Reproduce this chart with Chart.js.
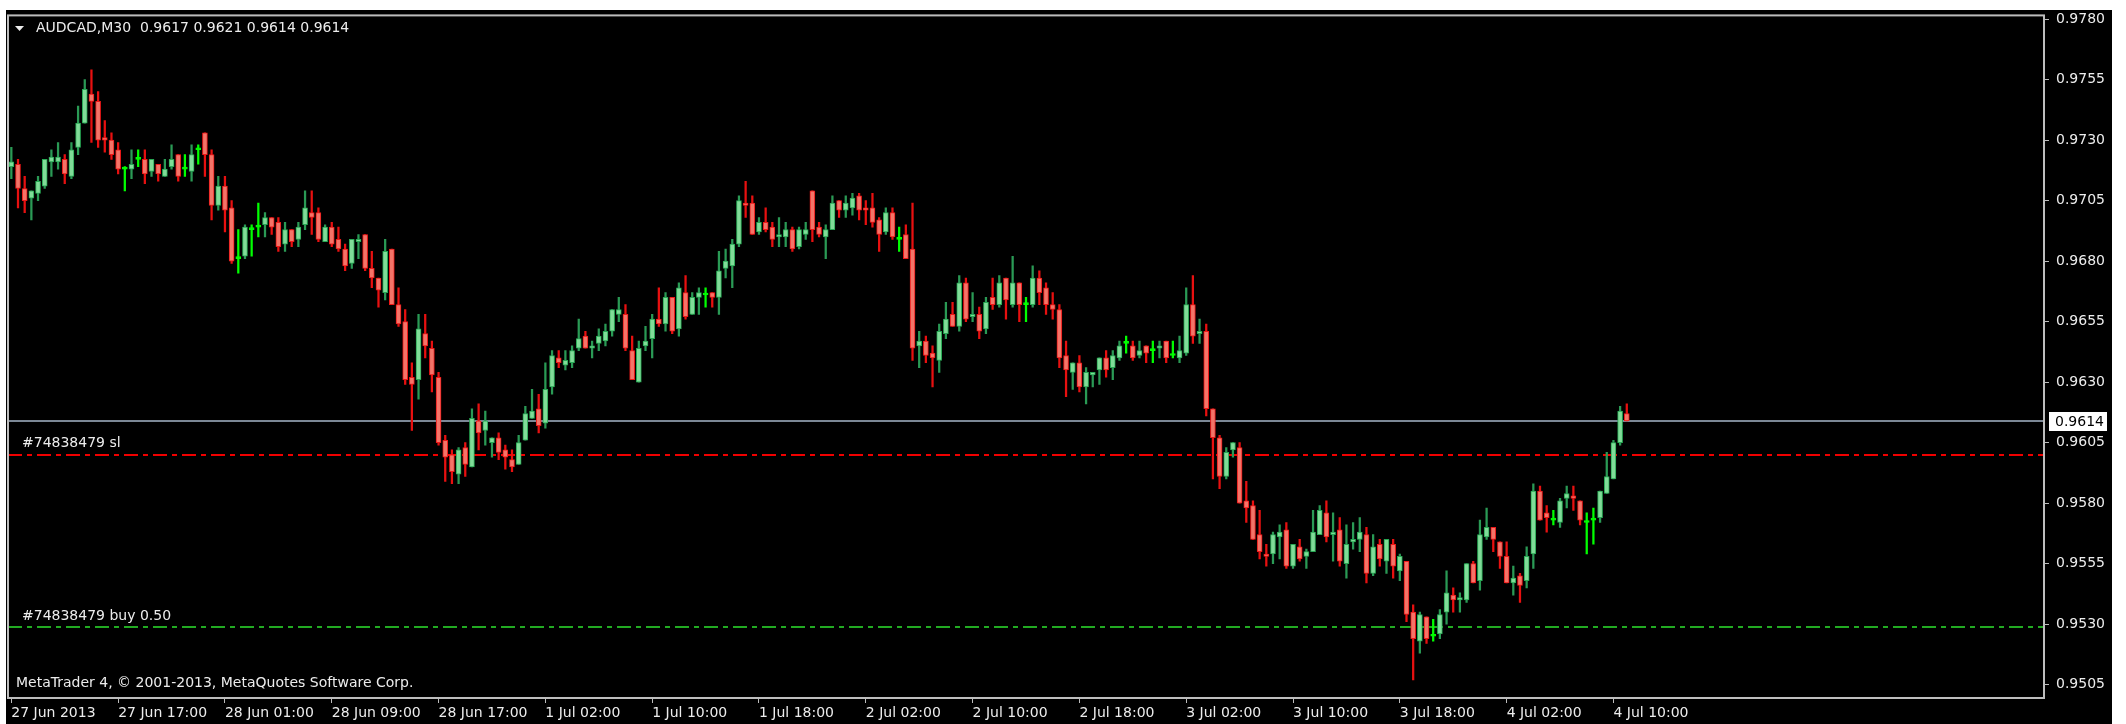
<!DOCTYPE html>
<html>
<head>
<meta charset="utf-8">
<script src="https://cdn.jsdelivr.net/npm/chart.js@4.4.1/dist/chart.umd.min.js"></script>
<style>
  html, body { margin: 0; padding: 0; background: #fff; }
  canvas { display: block; }
</style>
</head>
<body>
<canvas id="chart" width="2126" height="724"></canvas>
<script>
// AUDCAD M30 candles (oldest first)
const opens = [
  0.9719, 0.9720, 0.9710, 0.9706, 0.9708, 0.9711, 0.9721, 0.9721, 0.9722, 0.9715,
  0.9727, 0.9737, 0.9749, 0.9746, 0.9731, 0.9730, 0.9726, 0.9718, 0.9718, 0.9722,
  0.9722, 0.9717, 0.9720, 0.9715, 0.9719, 0.9724, 0.9718, 0.9717, 0.9726, 0.9733,
  0.9724, 0.9703, 0.9711, 0.9702, 0.9681, 0.9682, 0.9693, 0.9694, 0.9695, 0.9698,
  0.9696, 0.9687, 0.9693, 0.9689, 0.9695, 0.9700, 0.9700, 0.9688, 0.9694, 0.9689,
  0.9685, 0.9679, 0.9688, 0.9691, 0.9677, 0.9673, 0.9667, 0.9685, 0.9662, 0.9655,
  0.9632, 0.9631, 0.9650, 0.9644, 0.9632, 0.9606, 0.9600, 0.9592, 0.9603, 0.9595,
  0.9614, 0.9610, 0.9605, 0.9607, 0.9602, 0.9598, 0.9596, 0.9606, 0.9615, 0.9619,
  0.9613, 0.9628, 0.9640, 0.9637, 0.9638, 0.9644, 0.9649, 0.9644, 0.9646, 0.9647,
  0.9651, 0.9658, 0.9658, 0.9643, 0.9630, 0.9645, 0.9648, 0.9656, 0.9654, 0.9665,
  0.9652, 0.9667, 0.9658, 0.9665, 0.9666, 0.9667, 0.9665, 0.9677, 0.9678, 0.9687,
  0.9704, 0.9704, 0.9692, 0.9696, 0.9694, 0.9690, 0.9690, 0.9693, 0.9686, 0.9691,
  0.9709, 0.9694, 0.9690, 0.9693, 0.9705, 0.9701, 0.9702, 0.9707, 0.9702, 0.9702,
  0.9697, 0.9692, 0.9700, 0.9689, 0.9691, 0.9685, 0.9645, 0.9647, 0.9642, 0.9639,
  0.9650, 0.9658, 0.9653, 0.9671, 0.9657, 0.9658, 0.9652, 0.9665, 0.9662, 0.9673,
  0.9662, 0.9671, 0.9662, 0.9662, 0.9673, 0.9669, 0.9662, 0.9660, 0.9641, 0.9634,
  0.9638, 0.9628, 0.9633, 0.9635, 0.9640, 0.9636, 0.9640, 0.9646, 0.9645, 0.9641,
  0.9645, 0.9643, 0.9644, 0.9647, 0.9641, 0.9640, 0.9642, 0.9662, 0.9650, 0.9651,
  0.9619, 0.9607, 0.9591, 0.9602, 0.9603, 0.9581, 0.9579, 0.9567, 0.9559, 0.9559,
  0.9566, 0.9569, 0.9554, 0.9562, 0.9558, 0.9560, 0.9567, 0.9576, 0.9567, 0.9569,
  0.9555, 0.9564, 0.9565, 0.9567, 0.9551, 0.9563, 0.9556, 0.9563, 0.9552, 0.9556,
  0.9535, 0.9523, 0.9533, 0.9525, 0.9526, 0.9535, 0.9542, 0.9540, 0.9540, 0.9555,
  0.9548, 0.9566, 0.9570, 0.9564, 0.9558, 0.9547, 0.9550, 0.9548, 0.9559, 0.9585,
  0.9576, 0.9573, 0.9572, 0.9582, 0.9583, 0.9581, 0.9572, 0.9573, 0.9574, 0.9584,
  0.9590, 0.9605, 0.9617
];
const highs = [
  0.9727, 0.9722, 0.9715, 0.9709, 0.9715, 0.9722, 0.9726, 0.9729, 0.9724, 0.9729,
  0.9744, 0.9755, 0.9759, 0.9750, 0.9738, 0.9733, 0.9729, 0.9719, 0.9726, 0.9726,
  0.9726, 0.9722, 0.9720, 0.9722, 0.9728, 0.9724, 0.9724, 0.9728, 0.9728, 0.9733,
  0.9726, 0.9715, 0.9715, 0.9705, 0.9693, 0.9695, 0.9695, 0.9704, 0.9700, 0.9698,
  0.9698, 0.9696, 0.9693, 0.9696, 0.9709, 0.9709, 0.9702, 0.9695, 0.9696, 0.9694,
  0.9687, 0.9689, 0.9691, 0.9691, 0.9684, 0.9673, 0.9689, 0.9685, 0.9669, 0.9660,
  0.9638, 0.9658, 0.9658, 0.9647, 0.9634, 0.9608, 0.9602, 0.9603, 0.9605, 0.9619,
  0.9621, 0.9618, 0.9607, 0.9609, 0.9604, 0.9602, 0.9608, 0.9620, 0.9627, 0.9625,
  0.9638, 0.9643, 0.9643, 0.9643, 0.9645, 0.9656, 0.9651, 0.9647, 0.9652, 0.9654,
  0.9660, 0.9665, 0.9662, 0.9649, 0.9647, 0.9653, 0.9658, 0.9669, 0.9667, 0.9665,
  0.9671, 0.9674, 0.9667, 0.9669, 0.9669, 0.9667, 0.9684, 0.9685, 0.9689, 0.9707,
  0.9713, 0.9707, 0.9698, 0.9702, 0.9696, 0.9698, 0.9696, 0.9694, 0.9694, 0.9696,
  0.9709, 0.9696, 0.9695, 0.9707, 0.9705, 0.9707, 0.9708, 0.9708, 0.9705, 0.9708,
  0.9698, 0.9702, 0.9702, 0.9694, 0.9695, 0.9704, 0.9651, 0.9649, 0.9645, 0.9654,
  0.9663, 0.9663, 0.9674, 0.9673, 0.9667, 0.9661, 0.9665, 0.9673, 0.9674, 0.9673,
  0.9682, 0.9671, 0.9665, 0.9678, 0.9676, 0.9671, 0.9667, 0.9662, 0.9647, 0.9638,
  0.9641, 0.9636, 0.9634, 0.9640, 0.9643, 0.9643, 0.9647, 0.9649, 0.9647, 0.9647,
  0.9645, 0.9647, 0.9647, 0.9647, 0.9647, 0.9649, 0.9669, 0.9674, 0.9656, 0.9654,
  0.9619, 0.9608, 0.9603, 0.9605, 0.9605, 0.9589, 0.9581, 0.9577, 0.9563, 0.9568,
  0.9571, 0.9572, 0.9563, 0.9565, 0.9561, 0.9577, 0.9579, 0.9581, 0.9576, 0.9574,
  0.9571, 0.9572, 0.9574, 0.9570, 0.9567, 0.9565, 0.9565, 0.9565, 0.9559, 0.9556,
  0.9538, 0.9535, 0.9533, 0.9532, 0.9536, 0.9552, 0.9545, 0.9543, 0.9555, 0.9556,
  0.9573, 0.9578, 0.9570, 0.9564, 0.9564, 0.9554, 0.9551, 0.9562, 0.9588, 0.9587,
  0.9579, 0.9577, 0.9582, 0.9587, 0.9587, 0.9581, 0.9576, 0.9578, 0.9585, 0.9601,
  0.9606, 0.9620, 0.9621
];
const lows = [
  0.9714, 0.9702, 0.9700, 0.9697, 0.9705, 0.9710, 0.9715, 0.9718, 0.9712, 0.9714,
  0.9724, 0.9737, 0.9729, 0.9727, 0.9725, 0.9722, 0.9716, 0.9709, 0.9714, 0.9719,
  0.9712, 0.9715, 0.9713, 0.9715, 0.9718, 0.9713, 0.9715, 0.9713, 0.9720, 0.9715,
  0.9697, 0.9701, 0.9692, 0.9679, 0.9675, 0.9681, 0.9682, 0.9690, 0.9690, 0.9691,
  0.9684, 0.9684, 0.9686, 0.9686, 0.9693, 0.9691, 0.9688, 0.9688, 0.9686, 0.9684,
  0.9676, 0.9677, 0.9681, 0.9676, 0.9669, 0.9661, 0.9664, 0.9662, 0.9653, 0.9629,
  0.9610, 0.9623, 0.9640, 0.9626, 0.9604, 0.9589, 0.9588, 0.9588, 0.9591, 0.9595,
  0.9602, 0.9604, 0.9599, 0.9598, 0.9594, 0.9593, 0.9596, 0.9606, 0.9615, 0.9609,
  0.9611, 0.9625, 0.9636, 0.9635, 0.9636, 0.9643, 0.9644, 0.9640, 0.9643, 0.9645,
  0.9649, 0.9655, 0.9643, 0.9631, 0.9630, 0.9643, 0.9640, 0.9653, 0.9651, 0.9650,
  0.9649, 0.9656, 0.9658, 0.9658, 0.9661, 0.9661, 0.9658, 0.9673, 0.9669, 0.9686,
  0.9698, 0.9691, 0.9691, 0.9692, 0.9686, 0.9686, 0.9686, 0.9684, 0.9685, 0.9689,
  0.9688, 0.9690, 0.9681, 0.9693, 0.9698, 0.9698, 0.9699, 0.9697, 0.9695, 0.9694,
  0.9684, 0.9691, 0.9689, 0.9684, 0.9681, 0.9639, 0.9636, 0.9638, 0.9628, 0.9634,
  0.9648, 0.9653, 0.9651, 0.9655, 0.9655, 0.9648, 0.9650, 0.9660, 0.9661, 0.9656,
  0.9661, 0.9655, 0.9655, 0.9661, 0.9662, 0.9658, 0.9656, 0.9636, 0.9624, 0.9627,
  0.9626, 0.9621, 0.9628, 0.9629, 0.9632, 0.9631, 0.9639, 0.9642, 0.9639, 0.9640,
  0.9638, 0.9638, 0.9640, 0.9638, 0.9640, 0.9638, 0.9641, 0.9646, 0.9646, 0.9616,
  0.9590, 0.9586, 0.9590, 0.9599, 0.9580, 0.9572, 0.9565, 0.9557, 0.9554, 0.9555,
  0.9557, 0.9553, 0.9553, 0.9556, 0.9553, 0.9560, 0.9567, 0.9564, 0.9556, 0.9554,
  0.9549, 0.9561, 0.9560, 0.9547, 0.9550, 0.9554, 0.9551, 0.9549, 0.9548, 0.9531,
  0.9507, 0.9518, 0.9522, 0.9523, 0.9524, 0.9530, 0.9535, 0.9535, 0.9539, 0.9547,
  0.9544, 0.9565, 0.9560, 0.9553, 0.9547, 0.9542, 0.9539, 0.9545, 0.9553, 0.9573,
  0.9568, 0.9571, 0.9570, 0.9578, 0.9577, 0.9571, 0.9559, 0.9563, 0.9572, 0.9584,
  0.9590, 0.9604, 0.9614
];
const closes = [
  0.9721, 0.9710, 0.9705, 0.9709, 0.9713, 0.9722, 0.9723, 0.9723, 0.9716, 0.9726,
  0.9737, 0.9751, 0.9746, 0.9730, 0.9730, 0.9724, 0.9718, 0.9718, 0.9720, 0.9722,
  0.9716, 0.9722, 0.9716, 0.9718, 0.9722, 0.9715, 0.9718, 0.9724, 0.9726, 0.9724,
  0.9703, 0.9711, 0.9701, 0.9680, 0.9681, 0.9694, 0.9693, 0.9694, 0.9698, 0.9694,
  0.9686, 0.9693, 0.9688, 0.9694, 0.9702, 0.9698, 0.9689, 0.9694, 0.9687, 0.9685,
  0.9678, 0.9689, 0.9689, 0.9677, 0.9673, 0.9668, 0.9684, 0.9662, 0.9654, 0.9631,
  0.9629, 0.9652, 0.9645, 0.9633, 0.9605, 0.9599, 0.9593, 0.9602, 0.9596, 0.9615,
  0.9609, 0.9614, 0.9607, 0.9601, 0.9599, 0.9595, 0.9605, 0.9617, 0.9618, 0.9612,
  0.9627, 0.9641, 0.9638, 0.9639, 0.9643, 0.9648, 0.9644, 0.9645, 0.9649, 0.9651,
  0.9660, 0.9660, 0.9644, 0.9631, 0.9644, 0.9647, 0.9656, 0.9654, 0.9665, 0.9651,
  0.9669, 0.9657, 0.9665, 0.9667, 0.9666, 0.9665, 0.9676, 0.9680, 0.9687, 0.9705,
  0.9703, 0.9691, 0.9696, 0.9693, 0.9689, 0.9691, 0.9693, 0.9685, 0.9693, 0.9693,
  0.9693, 0.9691, 0.9693, 0.9704, 0.9701, 0.9704, 0.9706, 0.9701, 0.9701, 0.9696,
  0.9691, 0.9700, 0.9690, 0.9689, 0.9681, 0.9644, 0.9647, 0.9641, 0.9640, 0.9651,
  0.9656, 0.9653, 0.9671, 0.9656, 0.9658, 0.9651, 0.9663, 0.9662, 0.9671, 0.9664,
  0.9671, 0.9662, 0.9662, 0.9673, 0.9667, 0.9662, 0.9660, 0.9640, 0.9635, 0.9638,
  0.9628, 0.9634, 0.9634, 0.9640, 0.9635, 0.9641, 0.9645, 0.9646, 0.9640, 0.9643,
  0.9642, 0.9643, 0.9645, 0.9640, 0.9641, 0.9643, 0.9662, 0.9649, 0.9651, 0.9619,
  0.9607, 0.9591, 0.9601, 0.9605, 0.9580, 0.9578, 0.9565, 0.9560, 0.9558, 0.9567,
  0.9568, 0.9554, 0.9563, 0.9557, 0.9560, 0.9568, 0.9577, 0.9566, 0.9568, 0.9556,
  0.9563, 0.9565, 0.9568, 0.9551, 0.9562, 0.9557, 0.9565, 0.9554, 0.9558, 0.9534,
  0.9524, 0.9534, 0.9524, 0.9525, 0.9534, 0.9543, 0.9540, 0.9541, 0.9555, 0.9547,
  0.9567, 0.9570, 0.9565, 0.9558, 0.9547, 0.9549, 0.9546, 0.9558, 0.9585, 0.9573,
  0.9574, 0.9573, 0.9581, 0.9584, 0.9582, 0.9573, 0.9572, 0.9573, 0.9585, 0.9591,
  0.9605, 0.9618, 0.9614
];

// time axis labels, one every 16 bars (8 hours)
const xTickLabels = [
  '27 Jun 2013', '27 Jun 17:00', '28 Jun 01:00', '28 Jun 09:00', '28 Jun 17:00',
  '1 Jul 02:00', '1 Jul 10:00', '1 Jul 18:00', '2 Jul 02:00', '2 Jul 10:00',
  '2 Jul 18:00', '3 Jul 02:00', '3 Jul 10:00', '3 Jul 18:00', '4 Jul 02:00', '4 Jul 10:00'
];
const barsPerLabel = 16;
const slotCount = 305; // visible bar slots incl. chart shift on the right
const barSlots = Array.from({ length: slotCount }, (_, i) => i);

const yTicks = [0.9505, 0.9530, 0.9555, 0.9580, 0.9605, 0.9630, 0.9655, 0.9680, 0.9705, 0.9730, 0.9755, 0.9780];
const yMin = 0.94995;
const yMax = 0.97815;

const lastPrice = 0.9614;
const slLevel = 0.9600;
const buyLevel = 0.9529;
const headerText = 'AUDCAD,M30  0.9617 0.9621 0.9614 0.9614';
const slText = '#74838479 sl';
const buyText = '#74838479 buy 0.50';
const copyText = 'MetaTrader 4, \u00a9 2001-2013, MetaQuotes Software Corp.';

const FONT = '"DejaVu Sans", Verdana, sans-serif';
const TEXT_COLOR = '#ececec';
const FRAME_COLOR = '#bdbdbd';

function candleKind(i) {
  if (closes[i] > opens[i]) return 'up';
  if (closes[i] < opens[i]) return 'down';
  return 'doji';
}
const bodyFill = { up: '#80dc98', down: '#f47468', doji: '#00ff00' };
const bodyEdge = { up: '#28a854', down: '#ee1818', doji: '#00ff00' };
const wickColor = { up: '#2a9a55', down: '#e81010', doji: '#00ff00' };

// background, level lines, frame and the terminal texts
const mtDecor = {
  id: 'mtDecor',
  beforeDraw(chart) {
    const ctx = chart.ctx;
    ctx.save();
    ctx.fillStyle = '#ffffff';
    ctx.fillRect(0, 0, chart.width, chart.height);
    ctx.fillStyle = '#000000';
    ctx.fillRect(6, 10, 2106, chart.height - 10);
    ctx.restore();
  },
  beforeDatasetsDraw(chart) {
    const ctx = chart.ctx;
    const a = chart.chartArea;
    const y = chart.scales.y;
    ctx.save();
    // stop loss
    ctx.strokeStyle = '#f00000';
    ctx.lineWidth = 2;
    ctx.setLineDash([14, 5, 5, 5]);
    let py = Math.round(y.getPixelForValue(slLevel));
    ctx.beginPath(); ctx.moveTo(a.left, py); ctx.lineTo(a.right, py); ctx.stroke();
    // open order
    ctx.strokeStyle = '#22aa22';
    py = Math.round(y.getPixelForValue(buyLevel));
    ctx.beginPath(); ctx.moveTo(a.left, py); ctx.lineTo(a.right, py); ctx.stroke();
    // bid line
    ctx.setLineDash([]);
    ctx.strokeStyle = '#7c8896';
    ctx.lineWidth = 2;
    py = Math.round(y.getPixelForValue(lastPrice));
    ctx.beginPath(); ctx.moveTo(a.left, py); ctx.lineTo(a.right, py); ctx.stroke();
    ctx.restore();
  },
  afterDraw(chart) {
    const ctx = chart.ctx;
    const a = chart.chartArea;
    const y = chart.scales.y;
    ctx.save();
    ctx.strokeStyle = FRAME_COLOR;
    ctx.lineWidth = 2;
    ctx.strokeRect(a.left, a.top, a.right - a.left, a.bottom - a.top);

    ctx.font = '14px ' + FONT;
    ctx.fillStyle = TEXT_COLOR;
    ctx.textBaseline = 'middle';
    ctx.textAlign = 'left';
    // header
    ctx.beginPath();
    ctx.moveTo(15, 26); ctx.lineTo(24, 26); ctx.lineTo(19.5, 31); ctx.closePath();
    ctx.fill();
    ctx.fillText(headerText, 36, 28);
    // order labels
    ctx.fillText(slText, 22, y.getPixelForValue(slLevel) - 11);
    ctx.fillText(buyText, 22, y.getPixelForValue(buyLevel) - 10);
    ctx.fillText(copyText, 16, 683);

    // bid price box on the price scale
    const py = Math.round(y.getPixelForValue(lastPrice));
    ctx.fillStyle = '#ffffff';
    ctx.fillRect(a.right + 5, py - 9, 58, 19);
    ctx.fillStyle = '#000000';
    ctx.fillText(lastPrice.toFixed(4), a.right + 11, py + 1);
    ctx.restore();
  }
};

const ctx = document.getElementById('chart').getContext('2d');
new Chart(ctx, {
  type: 'bar',
  data: {
    labels: barSlots,
    datasets: [
      {
        label: 'wick',
        data: lows.map((l, i) => [l, highs[i]]),
        backgroundColor: c => wickColor[candleKind(c.dataIndex)],
        borderWidth: 0,
        barThickness: 1.6,
        grouped: false,
        order: 2
      },
      {
        label: 'body',
        data: opens.map((o, i) => [o, closes[i]]),
        backgroundColor: c => bodyFill[candleKind(c.dataIndex)],
        borderColor: c => bodyEdge[candleKind(c.dataIndex)],
        borderWidth: 1,
        borderSkipped: false,
        barThickness: 5,
        minBarLength: 2,
        grouped: false,
        order: 1
      }
    ]
  },
  options: {
    responsive: false,
    animation: false,
    devicePixelRatio: 1,
    events: [],
    layout: { padding: { left: 8, top: 14, right: 0, bottom: 0 } },
    plugins: { legend: { display: false }, tooltip: { enabled: false } },
    scales: {
      x: {
        type: 'category',
        offset: true,
        afterFit: s => { s.height = 26; },
        border: { display: false },
        grid: {
          offset: false,
          drawOnChartArea: false,
          drawTicks: true,
          tickLength: 5,
          lineWidth: 1,
          color: c => (c.index % barsPerLabel === 0 && c.index / barsPerLabel < xTickLabels.length) ? FRAME_COLOR : 'rgba(0,0,0,0)'
        },
        ticks: {
          autoSkip: false,
          maxRotation: 0,
          minRotation: 0,
          align: 'start',
          padding: 2,
          color: TEXT_COLOR,
          font: { family: FONT, size: 14 },
          callback: (v, i) => (i % barsPerLabel === 0 ? (xTickLabels[i / barsPerLabel] || '') : '')
        }
      },
      y: {
        position: 'right',
        min: yMin,
        max: yMax,
        afterFit: s => { s.width = 82; },
        afterBuildTicks: s => { s.ticks = yTicks.map(v => ({ value: v })); },
        border: { display: false },
        grid: {
          drawOnChartArea: false,
          drawTicks: true,
          tickLength: 5,
          color: FRAME_COLOR
        },
        ticks: {
          padding: 7,
          color: TEXT_COLOR,
          font: { family: FONT, size: 14 },
          callback: v => Number(v).toFixed(4)
        }
      }
    }
  },
  plugins: [mtDecor]
});
</script>
</body>
</html>
